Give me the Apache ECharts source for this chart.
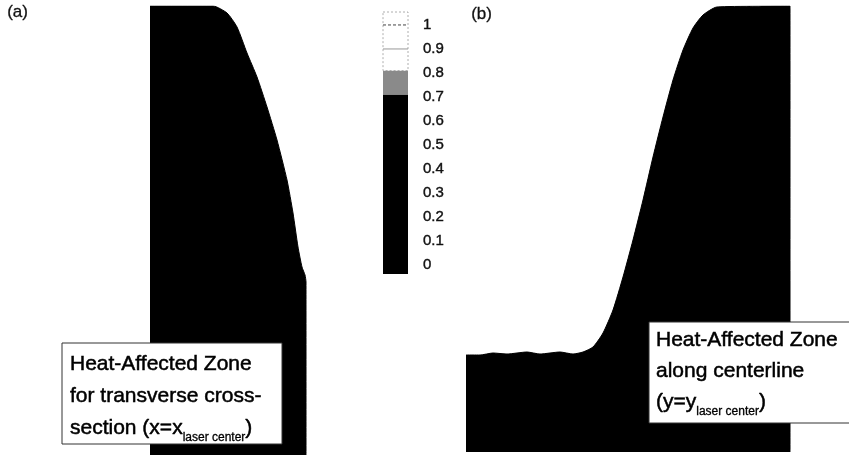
<!DOCTYPE html>
<html>
<head>
<meta charset="utf-8">
<script src="https://cdn.jsdelivr.net/npm/echarts@6/dist/echarts.min.js"></script>
<style>
html,body{margin:0;padding:0;background:#fff;}
#chart{width:849px;height:455px;}
</style>
</head>
<body>
<div id="chart"></div>
<script>
// Panel (a): transverse cross-section profile (x offset, height) in figure units
const panelA_x = [0, 63, 77, 87, 97, 107, 117, 127, 137, 143, 148, 152, 155, 156, 156];
const panelA_h = [449, 449, 442, 428, 402, 378, 348, 315, 275, 242, 208, 188, 180, 173, 0];

// Panel (b): centerline profile (x offset, height)
const panelB_x = [0, 14, 27, 41, 61, 74, 94, 107, 117, 127, 137, 147, 157, 167, 177, 187, 197, 207, 217, 227, 237, 251, 324, 324];
const panelB_h = [97, 97, 99, 98, 100, 98, 100, 98, 100, 105, 119, 142, 175, 212, 252, 295, 335, 372, 402, 424, 437, 445, 446, 0];

// Colour bar
const cbBounds = [-0.0375, 0.71, 0.81, 1.054];
const cbColors = ['#000000', '#8a8a8a', '#ffffff'];
const cbContours = [0.9, 1.0];
const cbTicks = [0, 0.1, 0.2, 0.3, 0.4, 0.5, 0.6, 0.7, 0.8, 0.9, 1];

const FONT = '"Liberation Sans", Arial, Helvetica, sans-serif';

const cbSegments = cbColors.map((c, i) => [cbBounds[i], cbBounds[i + 1], i]);

const chart = echarts.init(document.getElementById('chart'), null, {renderer: 'canvas'});

const hiddenAxis = (extra) => Object.assign({
  type: 'value', show: false, splitLine: {show: false}
}, extra);

const mainTok = {fontFamily: FONT, fontSize: 21, fill: '#000', stroke: '#000', lineWidth: 0.5};
const subTok = {fontFamily: FONT, fontSize: 12, lineHeight: 20, verticalAlign: 'bottom', fill: '#000', stroke: '#000', lineWidth: 0.3};

const option = {
  backgroundColor: '#ffffff',
  animation: false,
  grid: [
    {left: 150, top: 6, width: 156, height: 449},
    {left: 466, top: 6, width: 324, height: 446},
    {left: 383, top: 12, width: 25, height: 262}
  ],
  xAxis: [
    hiddenAxis({gridIndex: 0, min: 0, max: 156}),
    hiddenAxis({gridIndex: 1, min: 0, max: 324}),
    hiddenAxis({gridIndex: 2, min: 0, max: 1})
  ],
  yAxis: [
    hiddenAxis({gridIndex: 0, min: 0, max: 449}),
    hiddenAxis({gridIndex: 1, min: 0, max: 446}),
    {
      gridIndex: 2, type: 'value', position: 'right',
      min: cbBounds[0], max: cbBounds[cbBounds.length - 1],
      axisLine: {show: false}, axisTick: {show: false}, splitLine: {show: false},
      axisLabel: {
        customValues: cbTicks,
        formatter: v => String(+(+v).toFixed(1)),
        fontFamily: FONT, fontSize: 15, color: '#111', margin: 15,
        textBorderColor: '#111', textBorderWidth: 0.4
      }
    }
  ],
  series: [
    {
      type: 'line', xAxisIndex: 0, yAxisIndex: 0,
      data: panelA_x.map((x, i) => [x, panelA_h[i]]),
      showSymbol: false, smooth: 0.2,
      lineStyle: {color: '#000', width: 1},
      areaStyle: {color: '#000', opacity: 1}
    },
    {
      type: 'line', xAxisIndex: 1, yAxisIndex: 1,
      data: panelB_x.map((x, i) => [x, panelB_h[i]]),
      showSymbol: false, smooth: 0.2,
      lineStyle: {color: '#000', width: 1},
      areaStyle: {color: '#000', opacity: 1}
    },
    {
      type: 'custom', xAxisIndex: 2, yAxisIndex: 2,
      data: cbSegments,
      renderItem: function (params, api) {
        const lo = api.value(0), hi = api.value(1), idx = api.value(2);
        const p1 = api.coord([0, hi]);
        const p2 = api.coord([1, lo]);
        const white = cbColors[idx] === '#ffffff';
        return {
          type: 'rect',
          shape: {x: p1[0], y: p1[1], width: p2[0] - p1[0], height: p2[1] - p1[1]},
          style: {
            fill: cbColors[idx],
            stroke: white ? '#9a9a9a' : cbColors[idx],
            lineWidth: white ? 0.8 : 0,
            lineDash: white ? [2, 2] : null
          }
        };
      }
    },
    {
      type: 'custom', xAxisIndex: 2, yAxisIndex: 2,
      data: cbContours.map((v, i) => [v, i]),
      renderItem: function (params, api) {
        const v = api.value(0);
        const a = api.coord([0, v]);
        const b = api.coord([1, v]);
        return {
          type: 'line',
          shape: {x1: a[0], y1: a[1], x2: b[0], y2: b[1]},
          style: {
            stroke: v >= 1 ? '#444' : '#999',
            lineWidth: 1,
            lineDash: v >= 1 ? [3, 2] : null
          }
        };
      }
    }
  ],
  graphic: [
    {type: 'text', left: 7, top: 4, style: {text: '(a)', font: '17px ' + FONT, fill: '#111', stroke: '#111', lineWidth: 0.3}},
    {type: 'text', left: 471, top: 6, style: {text: '(b)', font: '17px ' + FONT, fill: '#111', stroke: '#111', lineWidth: 0.3}},
    {
      type: 'group', z: 100,
      children: [
        {type: 'rect', shape: {x: 62, y: 343, width: 220, height: 101},
         style: {fill: '#fff', stroke: '#333', lineWidth: 1}, z: 100},
        {type: 'text', x: 70, y: 348, z: 101,
         style: {
           text: '{m|Heat-Affected Zone}\n{m|for transverse cross-}\n{m|section (x=x}{s|laser center}{m|)}',
           rich: {m: Object.assign({lineHeight: 32}, mainTok), s: subTok}
         }}
      ]
    },
    {
      type: 'group', z: 100,
      children: [
        {type: 'rect', shape: {x: 649, y: 322, width: 220, height: 101},
         style: {fill: '#fff', stroke: '#333', lineWidth: 1}, z: 100},
        {type: 'text', x: 656, y: 325, z: 101,
         style: {
           text: '{m|Heat-Affected Zone}\n{m|along centerline}\n{m|(y=y}{s|laser center}{m|)}',
           rich: {m: Object.assign({lineHeight: 31}, mainTok), s: subTok}
         }}
      ]
    }
  ]
};

chart.setOption(option);
</script>
</body>
</html>
